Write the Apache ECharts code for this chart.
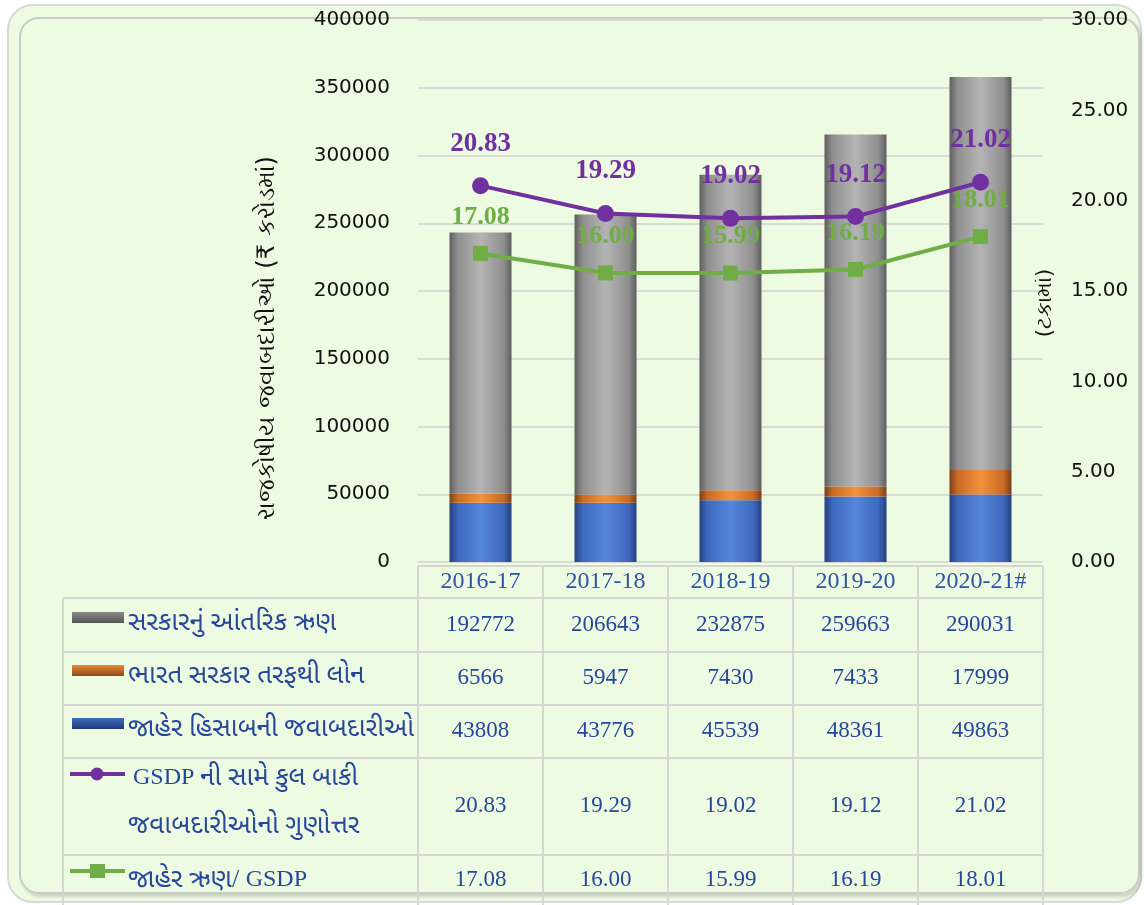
<!DOCTYPE html>
<html>
<head>
<meta charset="utf-8">
<script src="https://cdn.jsdelivr.net/npm/echarts@6/dist/echarts.min.js"></script>
<style>
  html, body { margin: 0; padding: 0; background: #fff; }
  #wrap { position: relative; width: 1144px; height: 905px; overflow: hidden; }
  .frame-outer {
    position: absolute; left: 7px; top: 4px; width: 1131px; height: 895px;
    border: 2px solid #d7dad4; border-radius: 26px; background: #eefbe3;
  }
  .frame-inner {
    position: absolute; left: 19px; top: 17px; width: 1117px; height: 873px;
    border: 2px solid #c9ccc6; border-radius: 20px;
    box-shadow: 2px 3px 3px rgba(0, 0, 0, 0.15);
  }
  #chart { position: absolute; left: 0; top: 0; width: 1144px; height: 905px; }
</style>
</head>
<body>
<div id="wrap">
  <div class="frame-outer"></div>
  <div class="frame-inner"></div>
  <div id="chart"></div>
</div>
<script>
// years and values (₹ crore / per cent)
const years = ['2016-17', '2017-18', '2018-19', '2019-20', '2020-21#']
const internalDebt = [192772, 206643, 232875, 259663, 290031]
const centreLoans = [6566, 5947, 7430, 7433, 17999]
const publicAccount = [43808, 43776, 45539, 48361, 49863]
const liabToGsdp = [20.83, 19.29, 19.02, 19.12, 21.02]
const debtToGsdp = [17.08, 16.00, 15.99, 16.19, 18.01]

const leftAxis = { min: 0, max: 400000, interval: 50000 }
const rightAxis = { min: 0, max: 30, interval: 5 }

const names = {
  internal: 'સરકારનું આંતરિક ઋણ',
  loans: 'ભારત સરકાર તરફથી લોન',
  publicAcc: 'જાહેર હિસાબની જવાબદારીઓ',
  ratio1: 'ની સામે કુલ બાકી',
  ratio2: 'જવાબદારીઓનો ગુણોત્તર',
  debt: 'જાહેર ઋણ/'
}

const serif = "'Liberation Serif', 'Times New Roman', 'Noto Sans Gujarati', serif"
const axisFont = "'DejaVu Sans', 'Noto Sans', sans-serif"
const textBlue = '#26479a'

function bevel(edge, mid, light) {
  return new echarts.graphic.LinearGradient(0, 0, 1, 0, [
    { offset: 0, color: edge },
    { offset: 0.13, color: mid },
    { offset: 0.5, color: light },
    { offset: 0.87, color: mid },
    { offset: 1, color: edge }
  ])
}

const grid = { left: 418, right: 101, top: 20, bottom: 343 }

const chart = echarts.init(document.getElementById('chart'), null, { renderer: 'canvas' })

chart.setOption({
  backgroundColor: 'transparent',
  animation: false,
  grid: grid,
  xAxis: {
    type: 'category',
    data: years,
    axisLine: { show: false },
    axisTick: { show: false },
    axisLabel: { fontFamily: serif, fontSize: 24, color: '#2f55a6', margin: 8 }
  },
  yAxis: [
    {
      type: 'value',
      min: leftAxis.min, max: leftAxis.max, interval: leftAxis.interval,
      name: 'રાજકોષીય જવાબદારીઓ (₹ કરોડમાં)',
      nameLocation: 'middle',
      nameGap: 138,
      nameRotate: 90,
      nameMoveOverlap: false,
      nameTextStyle: { fontFamily: axisFont, fontSize: 24, color: '#111', padding: [0, 94, 0, 0] },
      axisLine: { show: false },
      axisTick: { show: false },
      axisLabel: { fontFamily: axisFont, fontSize: 20, color: '#111', margin: 28, formatter: v => String(v) },
      splitLine: { lineStyle: { color: '#d9dbd6', width: 2 } }
    },
    {
      type: 'value',
      position: 'right',
      min: rightAxis.min, max: rightAxis.max, interval: rightAxis.interval,
      name: '(ટકામાં)',
      nameLocation: 'middle',
      nameGap: -8,
      nameRotate: 90,
      nameMoveOverlap: false,
      nameTextStyle: { fontFamily: axisFont, fontSize: 21, color: '#111', padding: [0, 24, 0, 0] },
      axisLine: { show: false },
      axisTick: { show: false },
      axisLabel: { fontFamily: axisFont, fontSize: 20, color: '#111', margin: 28, formatter: v => v.toFixed(2) },
      splitLine: { show: false }
    }
  ],
  series: [
    {
      name: names.publicAcc, type: 'bar', stack: 'total', barWidth: 62,
      itemStyle: { color: bevel('#24407e', '#3d68bd', '#5486dc') },
      data: publicAccount
    },
    {
      name: names.loans, type: 'bar', stack: 'total', barWidth: 62,
      itemStyle: { color: bevel('#7a4016', '#c96a26', '#f3923c') },
      data: centreLoans
    },
    {
      name: names.internal, type: 'bar', stack: 'total', barWidth: 62,
      itemStyle: { color: bevel('#5e5e5e', '#8f8f8f', '#b4b4b4') },
      data: internalDebt
    },
    {
      name: 'GSDP ' + names.ratio1 + ' ' + names.ratio2, type: 'line', yAxisIndex: 1,
      symbol: 'circle', symbolSize: 17,
      lineStyle: { color: '#7030a0', width: 4 },
      itemStyle: { color: '#7030a0' },
      label: {
        show: true, position: 'top', distance: 20,
        fontFamily: serif, fontWeight: 'bold', fontSize: 27, color: '#7030a0',
        formatter: p => p.value.toFixed(2)
      },
      data: liabToGsdp
    },
    {
      name: names.debt + ' GSDP', type: 'line', yAxisIndex: 1,
      symbol: 'rect', symbolSize: 15,
      lineStyle: { color: '#70ad47', width: 4 },
      itemStyle: { color: '#70ad47' },
      label: {
        show: true, position: 'top', distance: 16,
        fontFamily: serif, fontWeight: 'bold', fontSize: 26, color: '#70ad47',
        formatter: p => p.value.toFixed(2)
      },
      data: debtToGsdp
    }
  ]
})

// data table below the plot, built from the same arrays
function buildTable() {
  const els = []
  const left = grid.left
  const right = 1144 - grid.right
  const colW = (right - left) / years.length
  const labelLeft = 63
  const headTop = 566
  const rowEdges = [598, 652, 705, 758, 855, 905]
  const line = { stroke: '#d5d8d2', lineWidth: 2 }

  els.push({ type: 'line', shape: { x1: left, y1: headTop, x2: right, y2: headTop }, style: line })
  rowEdges.slice(0, 5).forEach(y => {
    els.push({ type: 'line', shape: { x1: labelLeft, y1: y, x2: right, y2: y }, style: line })
  })
  els.push({ type: 'line', shape: { x1: labelLeft, y1: rowEdges[0], x2: labelLeft, y2: 905 }, style: line })
  for (let k = 0; k <= years.length; k++) {
    const x = left + k * colW
    els.push({ type: 'line', shape: { x1: x, y1: headTop, x2: x, y2: 905 }, style: line })
  }

  const rows = [
    { values: internalDebt, fmt: v => String(v) },
    { values: centreLoans, fmt: v => String(v) },
    { values: publicAccount, fmt: v => String(v) },
    { values: liabToGsdp, fmt: v => v.toFixed(2) },
    { values: debtToGsdp, fmt: v => v.toFixed(2) }
  ]
  const rowY = [625, 678, 731, 806, 880]
  rows.forEach((row, r) => {
    row.values.forEach((v, i) => {
      const cx = chart.convertToPixel({ xAxisIndex: 0 }, years[i])
      els.push({
        type: 'text', x: cx, y: rowY[r],
        style: { text: row.fmt(v), fontFamily: serif, fontSize: 23, fill: textBlue, align: 'center', verticalAlign: 'middle' }
      })
    })
  })

  const rich = {
    g: { fontFamily: serif, fontSize: 26, fill: textBlue },
    l: { fontFamily: serif, fontSize: 24, fill: textBlue }
  }
  function label(x, y, text) {
    els.push({ type: 'text', x: x, y: y, style: { text: text, rich: rich, verticalAlign: 'middle' } })
  }

  // legend keys and row titles
  const barKeys = [
    { y: 612, c: ['#8a8a8a', '#555555'], label: names.internal, ty: 623 },
    { y: 665, c: ['#f0883a', '#8a4a1a'], label: names.loans, ty: 676 },
    { y: 718, c: ['#3e6cc0', '#1f3a78'], label: names.publicAcc, ty: 729 }
  ]
  barKeys.forEach(k => {
    els.push({
      type: 'rect', shape: { x: 72, y: k.y, width: 52, height: 11 },
      style: { fill: new echarts.graphic.LinearGradient(0, 0, 0, 1, [{ offset: 0, color: k.c[0] }, { offset: 1, color: k.c[1] }]) }
    })
    label(128, k.ty, '{g|' + k.label + '}')
  })

  els.push({ type: 'line', shape: { x1: 70, y1: 774, x2: 125, y2: 774 }, style: { stroke: '#7030a0', lineWidth: 4 } })
  els.push({ type: 'circle', shape: { cx: 97, cy: 774, r: 6.5 }, style: { fill: '#7030a0' } })
  label(133, 778, '{l|GSDP }{g|' + names.ratio1 + '}')
  label(128, 826, '{g|' + names.ratio2 + '}')

  els.push({ type: 'line', shape: { x1: 70, y1: 871, x2: 125, y2: 871 }, style: { stroke: '#70ad47', lineWidth: 4 } })
  els.push({ type: 'rect', shape: { x: 90, y: 864, width: 15, height: 14 }, style: { fill: '#70ad47' } })
  label(128, 880, '{g|' + names.debt + ' }{l|GSDP}')

  chart.setOption({ graphic: { elements: els } })
}

buildTable()
</script>
</body>
</html>
